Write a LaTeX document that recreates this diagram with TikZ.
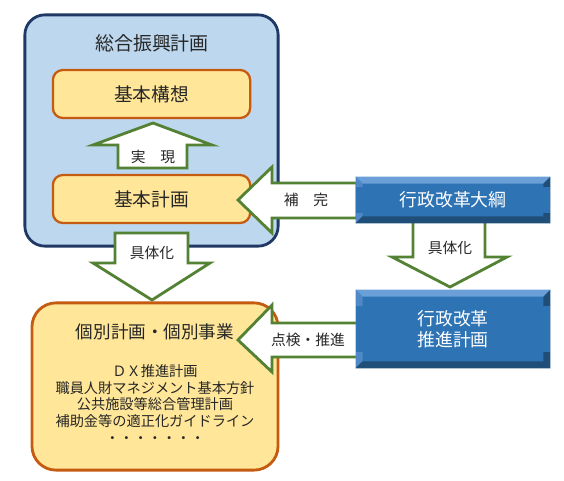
\documentclass[tikz,border=0pt]{standalone}
\usepackage{fontspec}
\setmainfont{Noto Sans CJK JP}
\usetikzlibrary{calc}

\definecolor{paleblue}{HTML}{BDD7EE}
\definecolor{navy}{HTML}{1F3864}
\definecolor{cream}{HTML}{FFE699}
\definecolor{rust}{HTML}{C55A11}
\definecolor{leaf}{HTML}{548235}
\definecolor{midblue}{HTML}{2E74B5}
\definecolor{bevlight}{HTML}{6A9FD8}
\definecolor{bevside}{HTML}{4F88C6}
\definecolor{bevdark}{HTML}{1F4E79}
\definecolor{ink}{HTML}{262626}

\begin{document}
\begin{tikzpicture}[x=0.025cm,y=-0.025cm,
  plan/.style={draw=navy, line width=2pt, fill=paleblue, rounded corners=0.5cm},
  stage/.style={draw=rust, line width=1.6pt, fill=cream, rounded corners=0.25cm,
    minimum width=4.93cm, minimum height=1.2cm, text=ink, font=\fontsize{13.3}{16}\selectfont},
  reform/.style={fill=midblue, minimum width=4.85cm, text=white, align=center,
    font=\fontsize{12.7}{15}\selectfont},
  fat/.style={draw=leaf, line width=2pt, fill=white, line join=miter},
  tag/.style={text=ink, font=\fontsize{10.5}{12}\selectfont}]
\useasboundingbox (0,0) rectangle (564,480);

% 総合振興計画
\node[plan, minimum width=6.33cm, minimum height=5.78cm] (sogo) at (151.5,130.5) {};
\node[text=ink, font=\fontsize{13.5}{16}\selectfont] (sogotitle) at (152,43) {総合振興計画};
\node[stage] (kouso) at (151.5,94) {基本構想};
\node[stage] (keikaku) at (151.5,199) {基本計画};

% 実現
\draw[fat] (118,168) -- (118,145) -- (93,145) -- (153,123) -- (212,145) -- (187,145) -- (187,168) -- cycle;
\node[tag] (jitsugen) at (153,157) {実　現};

% 具体化 (left)
\draw[fat] (115,233) -- (188,233) -- (188,263) -- (210,263) -- (152,300) -- (93,263) -- (115,263) -- cycle;
\node[tag] (gutai1) at (152,253) {具体化};

% 補完
\draw[fat] (357,183) -- (272,183) -- (272,167) -- (238,200) -- (272,233) -- (272,218) -- (357,218) -- cycle;
\node[tag] (hokan) at (306,200) {補　完};

% 個別計画・個別事業
\node[plan, draw=rust, fill=cream, rounded corners=0.6cm, minimum width=6.15cm, minimum height=4.18cm] (kobetsu) at (155,386.5) {};
\node[text=ink, font=\fontsize{12.5}{15}\selectfont] (kobetsutitle) at (155,332) {個別計画・個別事業};
\node[tag, align=center, font=\fontsize{10.1}{11.9}\selectfont] (kobetsulist) at (155,404)
  {ＤＸ推進計画\\職員人財マネジメント基本方針\\公共施設等総合管理計画\\補助金等の適正化ガイドライン\\・・・・・・・};

% 点検・推進
\draw[fat] (358,323) -- (272,323) -- (272,305) -- (238,340) -- (272,372) -- (272,357) -- (358,357) -- cycle;
\node[tag] (tenken) at (308,340) {点検・推進};

% 具体化 (right)
\draw[fat] (413,220) -- (485,220) -- (485,257) -- (507,257) -- (450,287) -- (392,257) -- (413,257) -- cycle;
\node[tag] (gutai2) at (450,248) {具体化};

% 行政改革
\node[reform, minimum height=1.15cm] (taikou) at (453,200) {};
\node[reform, minimum height=1.95cm] (suishin) at (453,329) {};
\foreach \b in {taikou,suishin} {
  \fill[bevlight] (\b.north west) -- (\b.north east) -- ($(\b.north east)+(-7,7)$) -- ($(\b.north west)+(7,7)$) -- cycle;
  \fill[bevside] (\b.north west) -- ($(\b.north west)+(7,7)$) -- ($(\b.south west)+(7,-7)$) -- (\b.south west) -- cycle;
  \fill[bevdark] (\b.south west) -- ($(\b.south west)+(7,-7)$) -- ($(\b.south east)+(-7,-7)$) -- (\b.south east) -- cycle;
  \fill[bevdark] (\b.north east) -- (\b.south east) -- ($(\b.south east)+(-7,-7)$) -- ($(\b.north east)+(-7,7)$) -- cycle;
}
\node[reform] (taikoutext) at (taikou) {行政改革大綱};
\node[reform] (suishintext) at (suishin) {行政改革\\推進計画};
\end{tikzpicture}
\end{document}
